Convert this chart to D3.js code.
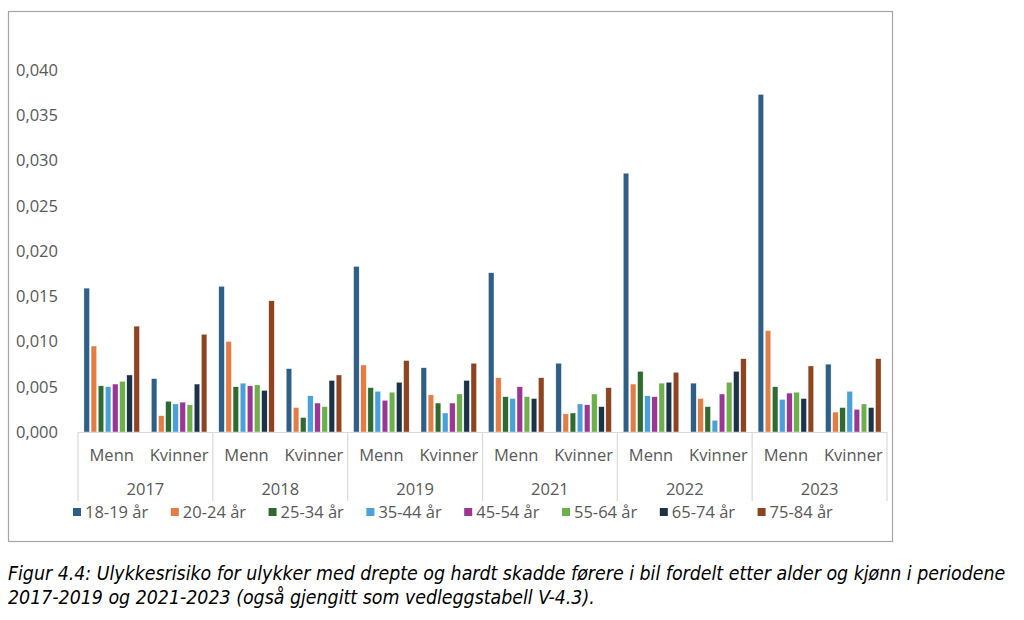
<!DOCTYPE html>
<html>
<head>
<meta charset="utf-8">
<script src="https://cdn.jsdelivr.net/npm/d3@7"></script>
<style>
  body { margin: 0; background: #fff; }
  svg { display: block; }
</style>
</head>
<body>
<div id="chart"></div>
<script>
// ulykkesrisiko per år, kjønn og aldersgruppe
const years = ["2017", "2018", "2019", "2021", "2022", "2023"];
const genders = ["Menn", "Kvinner"];
const ageGroups = ["18-19 år", "20-24 år", "25-34 år", "35-44 år", "45-54 år", "55-64 år", "65-74 år", "75-84 år"];
const colors = ["#2f5f86", "#e27d46", "#2f6a30", "#4aa0d9", "#9a3694", "#6daf4b", "#1b3349", "#8f4421"];
const yTicks = [0, 0.005, 0.010, 0.015, 0.020, 0.025, 0.030, 0.035, 0.040];

// en rad per (år, kjønn), verdier i rekkefølge som ageGroups
const values2017 = [
  [0.0159, 0.0095, 0.0051, 0.0050, 0.0053, 0.0056, 0.0063, 0.0117],
  [0.0059, 0.0018, 0.0034, 0.0031, 0.0033, 0.0030, 0.0053, 0.0108]
];
const values2018 = [
  [0.0161, 0.0100, 0.0050, 0.0054, 0.0051, 0.0052, 0.0046, 0.0145],
  [0.0070, 0.0027, 0.0016, 0.0040, 0.0032, 0.0028, 0.0057, 0.0063]
];
const values2019 = [
  [0.0183, 0.0074, 0.0049, 0.0045, 0.0035, 0.0044, 0.0055, 0.0079],
  [0.0071, 0.0041, 0.0032, 0.0021, 0.0032, 0.0042, 0.0057, 0.0076]
];
const values2021 = [
  [0.0176, 0.0060, 0.0039, 0.0037, 0.0050, 0.0039, 0.0037, 0.0060],
  [0.0076, 0.0020, 0.0021, 0.0031, 0.0030, 0.0042, 0.0028, 0.0049]
];
const values2022 = [
  [0.0286, 0.0053, 0.0067, 0.0040, 0.0039, 0.0054, 0.0055, 0.0066],
  [0.0054, 0.0037, 0.0028, 0.0013, 0.0042, 0.0055, 0.0067, 0.0081]
];
const values2023 = [
  [0.0373, 0.0112, 0.0050, 0.0036, 0.0043, 0.0044, 0.0037, 0.0073],
  [0.0075, 0.0022, 0.0027, 0.0045, 0.0025, 0.0031, 0.0027, 0.0081]
];
const valuesByYear = [values2017, values2018, values2019, values2021, values2022, values2023];

const captionLines = [
  "Figur 4.4: Ulykkesrisiko for ulykker med drepte og hardt skadde førere i bil fordelt etter alder og kjønn i periodene",
  "2017-2019 og 2021-2023 (også gjengitt som vedleggstabell V-4.3)."
];

const W = 1024, H = 620;
const plot = { left: 78, right: 887, top: 70, bottom: 432 };
const font = "'Open Sans', sans-serif";
const textCol = "#595959";
const labelSize = "16.5px";

const svg = d3.select("#chart").append("svg")
  .attr("width", W)
  .attr("height", H);

// ramme rundt diagrammet
svg.append("rect")
  .attr("x", 8.5).attr("y", 11.5)
  .attr("width", 884).attr("height", 530)
  .attr("fill", "none")
  .attr("stroke", "#a6a6a6")
  .attr("stroke-width", 1.2);

const y = d3.scaleLinear().domain([0, 0.040]).range([plot.bottom, plot.top]);

const cats = [];
years.forEach((yr) => genders.forEach((g) => cats.push(yr + "|" + g)));

const x0 = d3.scaleBand().domain(years).range([plot.left, plot.right]);
const x1 = d3.scaleBand().domain(genders).range([0, x0.bandwidth()]);
const x2 = d3.scaleBand().domain(ageGroups)
  .range([0, x1.bandwidth()])
  .paddingInner(0.22)
  .paddingOuter(0.83);

const color = d3.scaleOrdinal().domain(ageGroups).range(colors);

// y-akse tekster
const yAxis = svg.append("g")
  .attr("transform", "translate(58,0)")
  .call(d3.axisLeft(y).tickValues(yTicks).tickSize(0).tickPadding(0)
    .tickFormat((d) => d3.format(".3f")(d).replace(".", ",")));
yAxis.select(".domain").remove();
yAxis.selectAll("text")
  .attr("fill", textCol)
  .style("font-family", font)
  .style("font-size", labelSize);

// stolper
const rows = [];
years.forEach((yr, i) => {
  genders.forEach((g, j) => {
    ageGroups.forEach((a, k) => {
      rows.push({ year: yr, gender: g, age: a, value: valuesByYear[i][j][k] });
    });
  });
});

svg.append("g")
  .selectAll("rect")
  .data(rows)
  .join("rect")
  .attr("x", (d) => x0(d.year) + x1(d.gender) + x2(d.age))
  .attr("width", x2.bandwidth())
  .attr("y", (d) => y(d.value))
  .attr("height", (d) => y(0) - y(d.value))
  .attr("fill", (d) => color(d.age))
  .attr("stroke", "#ffffff")
  .attr("stroke-width", 0.4);

// kategoriakse
const axisCol = "#d9d9d9";
svg.append("line")
  .attr("x1", plot.left).attr("x2", plot.right)
  .attr("y1", y(0) + 0.5).attr("y2", y(0) + 0.5)
  .attr("stroke", axisCol).attr("stroke-width", 1.2);

const bounds = years.map((yr) => x0(yr)).concat([plot.right]);
svg.append("g")
  .selectAll("line")
  .data(bounds)
  .join("line")
  .attr("x1", (d) => d).attr("x2", (d) => d)
  .attr("y1", y(0)).attr("y2", 501)
  .attr("stroke", axisCol).attr("stroke-width", 1.2);

svg.append("g")
  .selectAll("text")
  .data(cats)
  .join("text")
  .attr("x", (d) => {
    const [yr, g] = d.split("|");
    return x0(yr) + x1(g) + x1.bandwidth() / 2;
  })
  .attr("y", 461)
  .attr("text-anchor", "middle")
  .attr("fill", textCol)
  .style("font-family", font)
  .style("font-size", labelSize)
  .text((d) => d.split("|")[1]);

svg.append("g")
  .selectAll("text")
  .data(years)
  .join("text")
  .attr("x", (d) => x0(d) + x0.bandwidth() / 2)
  .attr("y", 495)
  .attr("text-anchor", "middle")
  .attr("fill", textCol)
  .style("font-family", font)
  .style("font-size", labelSize)
  .text((d) => d);

// forklaring
const legend = svg.append("g")
  .selectAll("g")
  .data(ageGroups)
  .join("g")
  .attr("transform", (d, i) => "translate(" + (73 + i * 97.8) + ",512)");

legend.append("rect")
  .attr("x", 0).attr("y", -4)
  .attr("width", 8).attr("height", 8)
  .attr("fill", (d) => color(d));

legend.append("text")
  .attr("x", 12).attr("y", 6)
  .attr("fill", textCol)
  .style("font-family", font)
  .style("font-size", labelSize)
  .text((d) => d);

// figurtekst, skalert så første linje får samme bredde som i originalen
const caption = svg.append("g")
  .selectAll("text")
  .data(captionLines)
  .join("text")
  .attr("x", 8)
  .attr("y", (d, i) => 580 + i * 24)
  .attr("fill", "#000")
  .style("font-family", "'DejaVu Sans Condensed', 'Open Sans', sans-serif")
  .style("font-stretch", "condensed")
  .style("font-style", "italic")
  .style("font-size", "17px")
  .text((d) => d);

const firstWidth = caption.node().getComputedTextLength();
const capSize = Math.min(20, 17 * 998 / firstWidth);
caption.style("font-size", capSize + "px");
</script>
</body>
</html>
